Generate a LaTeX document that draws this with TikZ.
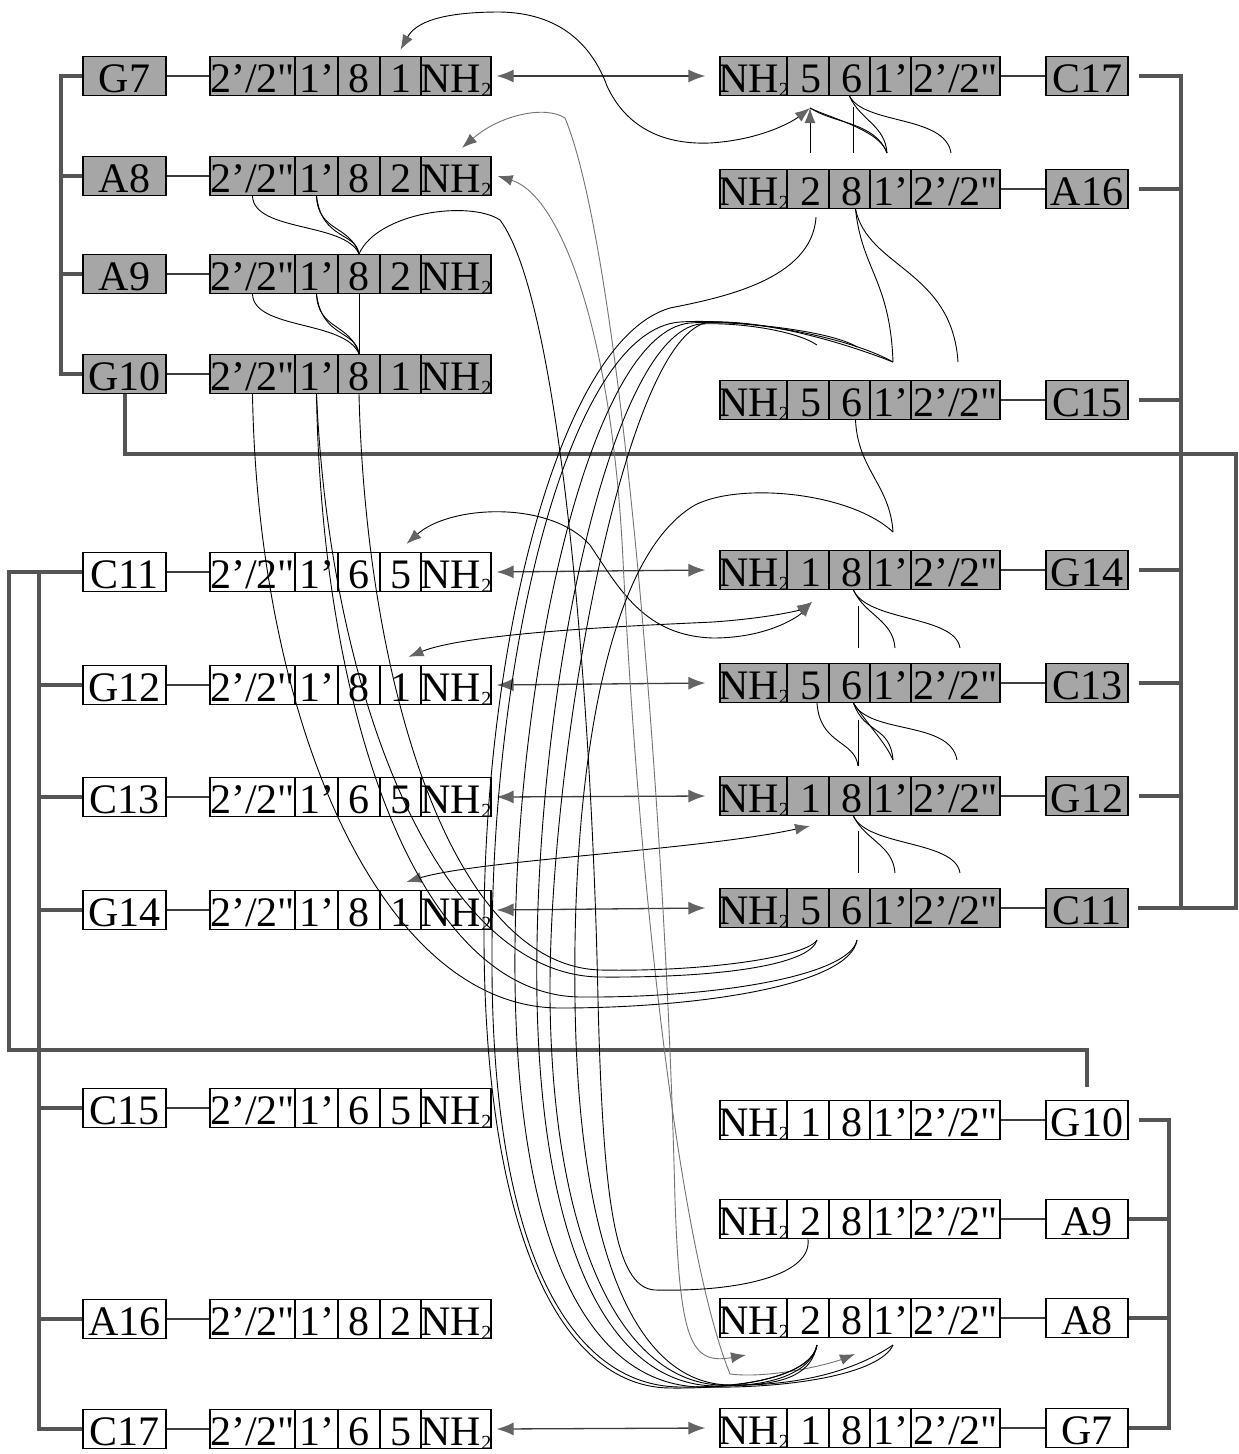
\documentclass[tikz,border=0pt]{standalone}
\usepackage{fontspec}
\setmainfont{Liberation Serif}
\newfontfamily\cellfont{Liberation Serif}
\usetikzlibrary{arrows.meta}
\definecolor{boxgray}{RGB}{166,166,166}
\definecolor{brkgray}{RGB}{85,85,85}
\definecolor{tipgray}{RGB}{100,100,100}
\definecolor{shaftgray}{RGB}{60,60,60}
\newcommand{\nhtwo}{NH\raisebox{-4pt}{\fontsize{20}{20}\selectfont 2}}
\newcommand{\lrow}[6]{%
\node[#3, minimum width=83pt] (#1-l) at (124.5,#2) {\makebox[0pt]{#4}};
\node[#3, minimum width=85pt] (#1-a) at (252.5,#2) {\makebox[0pt]{2’/2"}};
\node[#3, minimum width=43pt] (#1-b) at (316.5,#2) {\makebox[0pt]{1’}};
\node[#3, minimum width=42pt] (#1-c) at (359,#2) {\makebox[0pt]{#5}};
\node[#3, minimum width=41pt] (#1-d) at (400.5,#2) {\makebox[0pt]{#6}};
\node[#3, minimum width=70pt] (#1-e) at (456,#2) {\makebox[0pt]{\nhtwo}};
\draw[conn] (#1-l) -- (#1-a);
}
\newcommand{\rrow}[6]{%
\node[#3, minimum width=67pt] (#1-e) at (753.5,#2) {\makebox[0pt]{\nhtwo}};
\node[#3, minimum width=42pt] (#1-d) at (808,#2) {\makebox[0pt]{\kern5pt #5}};
\node[#3, minimum width=41pt] (#1-c) at (849.5,#2) {\makebox[0pt]{\kern5pt #6}};
\node[#3, minimum width=41pt] (#1-b) at (890.5,#2) {\makebox[0pt]{1’}};
\node[#3, minimum width=89pt] (#1-a) at (955.5,#2) {\makebox[0pt]{2’/2"}};
\node[#3, minimum width=82pt] (#1-l) at (1087,#2) {\makebox[0pt]{#4}};
\draw[conn] (#1-a) -- (#1-l);
}
\tikzset{
 cell/.style={draw=black, line width=1.3pt, inner sep=0pt, minimum height=39pt, text height=33pt, text depth=0pt, font=\cellfont\fontsize{42}{42}\selectfont},
 gcell/.style={cell, fill=boxgray},
 wcell/.style={cell, fill=white},
 brk/.style={draw=brkgray, line width=4pt},
 conn/.style={draw=shaftgray, line width=1.3pt},
 ln/.style={draw=black, line width=0.9pt},
 lng/.style={draw=black!55, line width=0.9pt},
 tipe/.style={-{Latex[length=15pt,width=11pt,color=tipgray]}},
 tipb/.style={{Latex[length=15pt,width=11pt,color=tipgray]}-{Latex[length=15pt,width=11pt,color=tipgray]}},
 dbl/.style={draw=shaftgray, line width=1.3pt, {Latex[length=17pt,width=13pt,color=tipgray]}-{Latex[length=17pt,width=13pt,color=tipgray]}},
}
\begin{document}
\begin{tikzpicture}[x=1pt,y=-1pt]
\fill[white] (0,0) rectangle (1239,1454);
\useasboundingbox (0,0) rectangle (1239,1454);

% ---------------- rows
\lrow{LG7}{76}{gcell}{G7}{8}{1}
\lrow{LA8}{176}{gcell}{A8}{8}{2}
\lrow{LA9}{274}{gcell}{A9}{8}{2}
\lrow{LG10}{374}{gcell}{G10}{8}{1}
\lrow{LC11}{572}{wcell}{C11}{6}{5}
\lrow{LG12}{685}{wcell}{G12}{8}{1}
\lrow{LC13}{797}{wcell}{C13}{6}{5}
\lrow{LG14}{910}{wcell}{G14}{8}{1}
\lrow{LC15}{1108}{wcell}{C15}{6}{5}
\lrow{LA16}{1319}{wcell}{A16}{8}{2}
\lrow{LC17}{1429}{wcell}{C17}{6}{5}

\rrow{RC17}{76}{gcell}{C17}{5}{6}
\rrow{RA16}{189}{gcell}{A16}{2}{8}
\rrow{RC15}{400}{gcell}{C15}{5}{6}
\rrow{RG14}{570}{gcell}{G14}{1}{8}
\rrow{RC13}{683}{gcell}{C13}{5}{6}
\rrow{RG12}{796}{gcell}{G12}{1}{8}
\rrow{RC11}{908}{gcell}{C11}{5}{6}
\rrow{RG10}{1120}{wcell}{G10}{1}{8}
\rrow{RA9}{1219}{wcell}{A9}{2}{8}
\rrow{RA8}{1318}{wcell}{A8}{2}{8}
\rrow{RG7}{1428}{wcell}{G7}{1}{8}

% ---------------- brackets
\draw[brk] (LG7-l.west) -- ++(-21,0) |- (LG10-l.west);
\draw[brk] (LA8-l.west) -- ++(-21,0);
\draw[brk] (LA9-l.west) -- ++(-21,0);
\draw[brk] (LG10-l.south) -- ++(0,59.5) -| (1236,908) -- ([xshift=9pt]RC11-l.east);
\draw[brk] ([xshift=10pt]RC17-l.east) -- ++(42,0) |- ([xshift=10pt]RC11-l.east);
\foreach \r in {RA16,RC15,RG14,RC13,RG12}{\draw[brk] ([xshift=10pt]\r-l.east) -- ++(42,0);}
\draw[brk] (LC11-l.west) -- ++(-73,0) -- ++(0,478) -| ([yshift=13pt]RG10-l.north);
\draw[brk] ([xshift=-43pt]LC11-l.west) -- (LC11-l.west);
\draw[brk] ([xshift=-43pt]LC11-l.west) |- (LC17-l.west);
\foreach \r in {LG12,LC13,LG14,LC15,LA16}{\draw[brk] (\r-l.west) -- ++(-43,0);}
\draw[brk] ([xshift=10pt]RG10-l.east) -| ([xshift=40pt]RG7-l.east) -- (RG7-l.east);
\draw[brk] (RA9-l.east) -- ++(40,0);
\draw[brk] (RA8-l.east) -- ++(40,0);

% ---------------- straight double arrows
\draw[dbl] ([xshift=5pt]LG7-e.east) -- ([xshift=-14pt]RC17-e.west);
\draw[dbl] ([xshift=5pt]LC11-e.east) -- ([xshift=-14pt]RG14-e.west);
\draw[dbl] ([xshift=5pt]LG12-e.east) -- ([xshift=-14pt]RC13-e.west);
\draw[dbl] ([xshift=5pt]LC13-e.east) -- ([xshift=-14pt]RG12-e.west);
\draw[dbl] ([xshift=5pt]LG14-e.east) -- ([xshift=-14pt]RC11-e.west);
\draw[dbl] ([xshift=5pt]LC17-e.east) -- ([xshift=-14pt]RG7-e.west);

% ---------------- free ends
\coordinate (k17) at (810,108);
\coordinate (f1a) at (810,153);
\coordinate (f1b) at (853,153);
\coordinate (f1c) at (887,153);
\coordinate (f1d) at (951,153);
\coordinate (p1) at (817,345);
\coordinate (p2) at (857,347);
\coordinate (p3) at (893,362);
\coordinate (p4) at (958,362);
\coordinate (f3) at (893,532);
\coordinate (k14) at (812,602);
\coordinate (f4a) at (858,648);
\coordinate (f4b) at (895,648);
\coordinate (f4c) at (960,648);
\coordinate (f5a) at (858,766);
\coordinate (f5b) at (893,760);
\coordinate (f5c) at (957,760);
\coordinate (k12) at (810,826);
\coordinate (f6a) at (858,873);
\coordinate (f6b) at (895,873);
\coordinate (f6c) at (960,873);
\coordinate (c11a) at (817,940);
\coordinate (c11b) at (857,940);
\coordinate (q1) at (817,1345);
\coordinate (q2) at (855,1354);
\coordinate (q3) at (893,1345);
\coordinate (ka8) at (746,1355);

% ---------------- small marks, right side
\draw[ln,tipe] (f1a) -- (k17);
\draw[ln] (k17) .. controls (835,124) and (875,122) .. (f1c);
\draw[ln] (k17) .. controls (830,118) and (880,130) .. (f1c);
\draw[ln] (f1b) -- ++(0,-46);
\draw[ln] (RC17-c.south) .. controls (860,120) and (885,125) .. (f1c);
\draw[ln] (RC17-c.south) .. controls (865,125) and (945,115) .. (f1d);

\draw[ln] ([xshift=6pt]RA16-c.south) .. controls (862,270) and (890,280) .. (p3);
\draw[ln] ([xshift=6pt]RA16-c.south) .. controls (868,268) and (952,270) .. (p4);

\draw[ln] ([xshift=6pt]RC15-c.south) .. controls (858,470) and (890,485) .. (f3);

\draw[ln] (f4a) -- ++(0,-42);
\draw[ln] ([xshift=4pt]RG14-c.south) .. controls (865,615) and (893,620) .. (f4b);
\draw[ln] ([xshift=4pt]RG14-c.south) .. controls (868,622) and (955,615) .. (f4c);

\draw[ln] (f5a) -- ++(0,-46);
\draw[ln] ([xshift=9pt]RC13-d.south) .. controls (820,745) and (855,740) .. (f5a);
\draw[ln] ([xshift=4pt]RC13-c.south) .. controls (865,735) and (890,725) .. (f5b);
\draw[ln] ([xshift=4pt]RC13-c.south) .. controls (872,730) and (885,742) .. (f5b);
\draw[ln] ([xshift=4pt]RC13-c.south) .. controls (870,735) and (950,720) .. (f5c);

\draw[ln] (f6a) -- ++(0,-42);
\draw[ln] ([xshift=4pt]RG12-c.south) .. controls (865,840) and (893,845) .. (f6b);
\draw[ln] ([xshift=4pt]RG12-c.south) .. controls (868,847) and (955,840) .. (f6c);

% ---------------- small marks, left side
\draw[ln] (LA8-a.south) .. controls (254,232) and (345,222) .. (LA9-c.north);
\draw[ln] (LA8-b.south) .. controls (318,232) and (350,225) .. (LA9-c.north);
\draw[ln] (LA8-b.south) .. controls (322,240) and (356,232) .. (LA9-c.north);
\draw[ln] (LA9-a.south) .. controls (254,330) and (345,320) .. (LG10-c.north);
\draw[ln] (LA9-b.south) .. controls (318,330) and (350,323) .. (LG10-c.north);
\draw[ln] (LA9-b.south) .. controls (322,338) and (356,330) .. (LG10-c.north);
\draw[ln] (LA9-c.south) -- (LG10-c.north);

% ---------------- curved arrows
\draw[ln,tipb] ([yshift=6pt]LG7-d.north) .. controls (418,18) and (455,12) .. (500,12) .. controls (560,13) and (592,45) .. (607,86) .. controls (625,125) and (660,145) .. (710,143) .. controls (760,140) and (792,122) .. (k17);
\draw[ln,tipb] ([xshift=6pt,yshift=8pt]LC11-d.north) .. controls (450,505) and (550,500) .. (590,545) .. controls (620,590) and (645,636) .. (713,638) .. controls (770,638) and (800,615) .. (k14);
\draw[ln,tipb] ([xshift=8pt,yshift=8pt]LG12-d.north) .. controls (470,632) and (650,625) .. (713,622) .. controls (770,618) and (800,610) .. (k14);
\draw[ln,tipb] ([xshift=6pt,yshift=8pt]LG14-d.north) .. controls (480,860) and (700,850) .. (k12);

% gray long curves
\draw[lng,tipb] ([xshift=6pt,yshift=8pt]LA8-e.north) .. controls (500,115) and (545,105) .. (565,118) .. controls (620,250) and (665,800) .. (675,1200) .. controls (680,1340) and (690,1365) .. (ka8);
\draw[lng,tipb] ([xshift=6pt]LA8-e.east) .. controls (560,195) and (612,330) .. (623,560) .. controls (640,900) and (680,1250) .. (730,1374) .. controls (770,1379) and (830,1364) .. (q2);

% A9 8 -> A9 2
\draw[ln] (LA9-c.north) .. controls (378,212) and (470,200) .. (500,220) .. controls (560,300) and (592,700) .. (598,1000) .. controls (603,1200) and (615,1288) .. (655,1290) .. controls (740,1292) and (812,1275) .. (RA9-d.south);

% G10 sugar -> C11 base
\draw[ln] (LG10-a.south) .. controls (258,720) and (380,1008) .. (560,1008) .. controls (700,1008) and (850,985) .. (c11b);
\draw[ln] (LG10-b.south) .. controls (322,720) and (420,995) .. (580,997) .. controls (720,998) and (850,975) .. (c11b);
\draw[ln] (LG10-b.south) .. controls (330,700) and (440,975) .. (600,977) .. controls (720,978) and (810,965) .. (c11a);
\draw[ln] (LG10-c.south) .. controls (366,680) and (450,965) .. (600,970) .. controls (700,972) and (805,958) .. (c11a);

% lens curves, top hub -> bottom hub
\draw[ln] ([xshift=8pt,yshift=-8pt]RA16-d.south) .. controls (812,280) and (720,298) .. (670,308) .. controls (560,340) and (486,640) .. (484,920) .. controls (482,1230) and (560,1387) .. (670,1388) .. controls (750,1389) and (812,1374) .. (q1);
\draw[ln] (p3) .. controls (845,335) and (740,318) .. (680,322) .. controls (570,330) and (492,650) .. (492,950) .. controls (490,1250) and (570,1386) .. (680,1387) .. controls (760,1388) and (812,1371) .. (q1);
\draw[ln] (p2) .. controls (830,330) and (730,320) .. (690,323) .. controls (590,332) and (512,680) .. (515,980) .. controls (518,1250) and (590,1384) .. (700,1387) .. controls (790,1389) and (880,1374) .. (q3);
\draw[ln] (p1) .. controls (795,330) and (735,322) .. (700,324) .. controls (610,335) and (532,700) .. (537,1000) .. controls (542,1250) and (610,1384) .. (715,1386) .. controls (780,1387) and (812,1369) .. (q1);
\draw[ln] (p3) .. controls (850,345) and (770,320) .. (710,322) .. controls (625,330) and (548,760) .. (550,1000) .. controls (553,1250) and (625,1381) .. (720,1385) .. controls (790,1387) and (850,1374) .. (q3);
\draw[ln] (f3) .. controls (850,492) and (740,482) .. (695,505) .. controls (600,560) and (572,800) .. (575,1000) .. controls (578,1250) and (635,1384) .. (730,1385) .. controls (790,1386) and (812,1371) .. (q1);
\end{tikzpicture}
\end{document}
